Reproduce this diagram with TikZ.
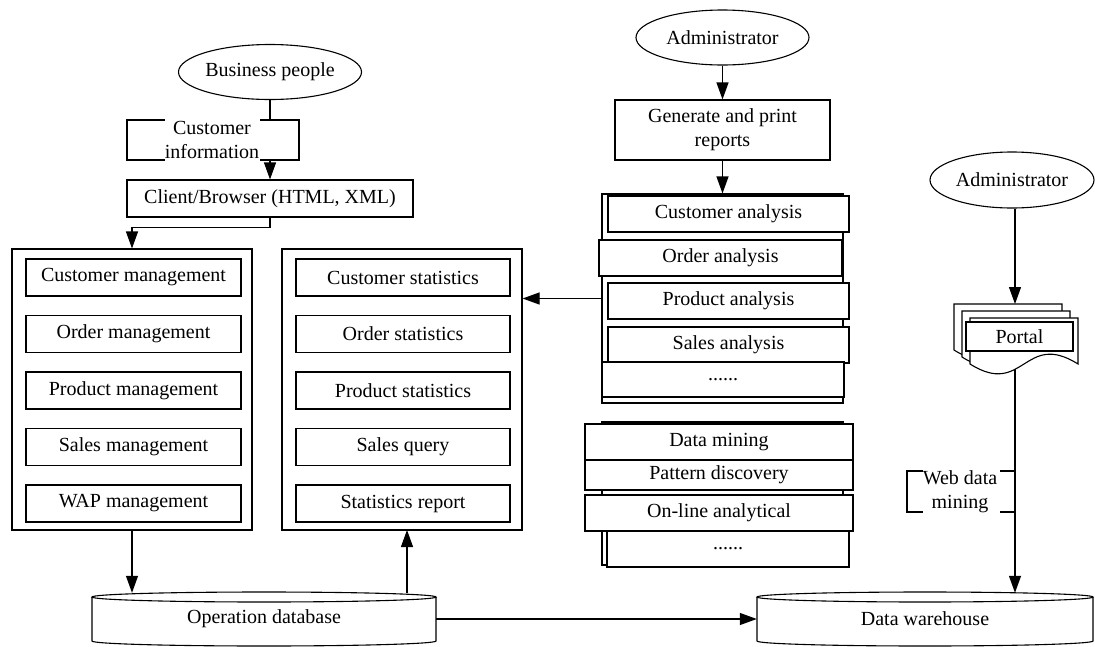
\documentclass[tikz,border=0pt]{standalone}
\usepackage{fontspec}
\setmainfont{Liberation Serif}
\usetikzlibrary{shapes.geometric,arrows.meta}
\begin{document}
\begin{tikzpicture}[x=1pt,y=-1pt,
  every node/.style={font=\fontsize{20}{24}\selectfont, inner sep=0pt},
  ln/.style={line width=1.1pt},
  box/.style={draw, line width=1.1pt, fill=white, rectangle, minimum height=37pt, align=center},
  frame/.style={draw, line width=1.1pt, fill=white, rectangle},
  ell/.style={draw, line width=1.1pt, ellipse, fill=white},
  arr/.style={line width=1.1pt, -{Triangle[length=17pt,width=12pt]}}]
\useasboundingbox (0,0) rectangle (1095,646);

% ---- left column
\node[ell, minimum width=172pt, minimum height=55pt] (bp) at (270,72) {Business people};
\node[box, minimum width=286pt] (client) at (270,198.5) {Client/Browser (HTML, XML)};
\node[align=center] (ci) at (212,140) {Customer\\information};
\draw[ln] (165,120) -- (127,120) -- (127,160) -- (165,160);
\draw[ln] (260,120) -- (299,120) -- (299,160) -- (260,160);
\coordinate (ciT) at (270,120);
\coordinate (ciB) at (270,160);
\draw[ln] (bp.south) -- (ciT);
\draw[arr] (ciB) -- (client.north);

\node[frame, minimum width=240pt, minimum height=281pt] (lbig) at (132,389.5) {};
\node[frame, minimum width=240pt, minimum height=281pt] (rbig) at (402,389.5) {};
\draw[arr] (client.south) -- ++(0,10) -| (lbig.north);

\foreach \t [count=\i from 0] in {Customer management, Order management, Product management, Sales management, WAP management}
  \node[box, minimum width=215pt] (lb\i) at (133.5,{277.5+56.5*\i}) {\t};
\foreach \t [count=\i from 0] in {Customer statistics, Order statistics, Product statistics, Sales query, Statistics report}
  \node[box, minimum width=214pt] (rb\i) at (403,{277.5+56.5*\i}) {\t};

% ---- middle column
\node[ell, minimum width=173pt, minimum height=55pt] (adm1) at (722.5,37.5) {Administrator};
\node[box, minimum width=215pt, minimum height=60pt] (gen) at (722.5,130) {Generate and print\\reports};
\draw[arr] (adm1.south) -- (gen.north);

\node[frame, minimum width=241pt, minimum height=209pt] (astack) at (722.5,298.5) {};
\node[box, minimum width=241pt, minimum height=36pt] (ca) at (728.5,214) {Customer analysis};
\node[box, minimum width=243pt, minimum height=36pt] (oa) at (720.5,258) {Order analysis};
\node[box, minimum width=241pt, minimum height=36pt] (pa) at (728.5,301) {Product analysis};
\node[box, minimum width=241pt, minimum height=36pt] (sa) at (728.5,345) {Sales analysis};
\node[box, minimum width=242pt, minimum height=35pt] (da) at (723,379.5) {......};
\draw[arr] (gen.south) -- (astack.north);
\draw[arr] (astack.west) -- (astack.west -| rbig.east);

\node[frame, minimum width=241pt, minimum height=143pt] (mstack) at (722.5,493.5) {};
\node[box, minimum width=268pt, minimum height=36pt] (dm) at (719,442) {Data mining};
\node[box, minimum width=268pt, minimum height=30pt] (pd) at (719,475) {Pattern discovery};
\node[box, minimum width=268pt, minimum height=36pt] (ol) at (719,513) {On-line analytical};
\node[box, minimum width=242pt, minimum height=36pt] (md) at (728,549) {......};

% ---- right column
\node[ell, minimum width=164pt, minimum height=56pt] (adm2) at (1012,180) {Administrator};
\foreach \dx/\dy in {0/0, 8/7, 16/14}
  \draw[ln, fill=white] ({954+\dx},{304+\dy}) -- ({1062+\dx},{304+\dy}) -- ({1062+\dx},{350+\dy})
    .. controls ({1008+\dx},{316+\dy}) and ({1008+\dx},{384+\dy}) .. ({954+\dx},{350+\dy}) -- cycle;
\node[box, minimum width=107pt, minimum height=29pt] (portal) at (1019.5,336.5) {Portal};
\coordinate (pt) at (1015,304);
\coordinate (pb) at (1015,369);
\draw[arr] (adm2.south -| pt) -- (pt);

\node[align=center] (wdm) at (960,492) {Web data\\mining};
\draw[ln] (923,471) -- (907,471) -- (907,512) -- (923,512);
\draw[ln] (1000,471) -- (1015,471);
\draw[ln] (1000,512) -- (1015,512);

% ---- databases
\draw[ln, fill=white] (92,597) -- (92,641) .. controls (92,643.8) and (169,646) .. (264,646)
  .. controls (359,646) and (436,643.8) .. (436,641) -- (436,597);
\node[ell, minimum width=344pt, minimum height=10pt] (opdbtop) at (264,597) {};
\node[minimum width=344pt, minimum height=52pt] (opdb) at (264,619) {Operation database};

\draw[ln, fill=white] (757,597) -- (757,641) .. controls (757,643.8) and (832,646) .. (925,646)
  .. controls (1018,646) and (1093,643.8) .. (1093,641) -- (1093,597);
\node[ell, minimum width=336pt, minimum height=10pt] (dwtop) at (925,597) {};
\node[minimum width=336pt, minimum height=52pt] (dw) at (925,619) {Data warehouse};

\draw[arr] (lbig.south) -- (lbig.south |- opdb.north);
\coordinate (rbs) at (407,530);
\draw[arr] (rbs |- opdb.north) -- (rbs);
\draw[arr] (opdb.east) -- (dw.west);
\draw[arr] (pb) -- (pb |- dw.north);
\end{tikzpicture}
\end{document}
